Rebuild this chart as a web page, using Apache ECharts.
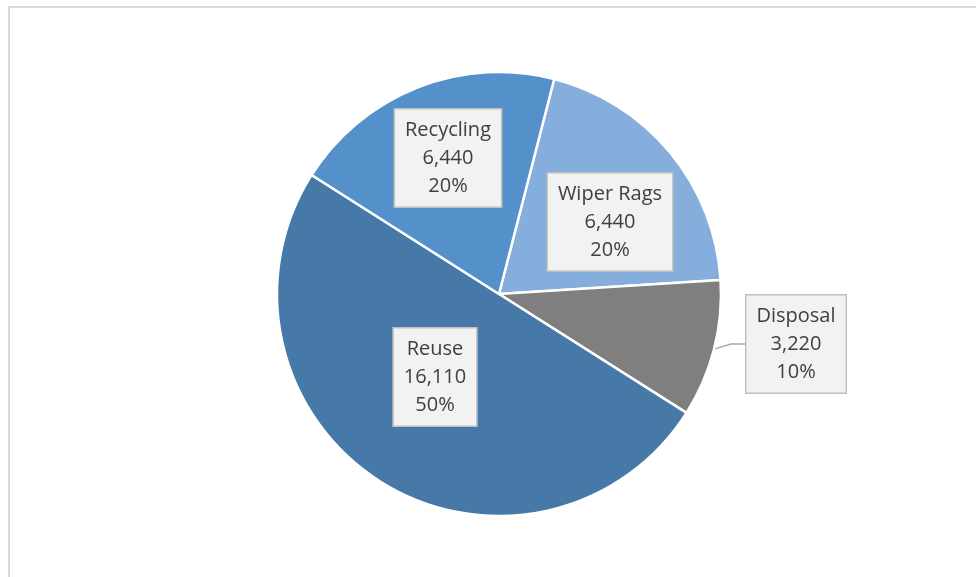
<!DOCTYPE html>
<html>
<head>
<meta charset="utf-8">
<script src="https://cdn.jsdelivr.net/npm/echarts@6/dist/echarts.min.js"></script>
<style>
html,body{margin:0;padding:0;background:#fff;}
#frame{position:absolute;left:8px;top:6px;width:980px;height:590px;border:2px solid #D9D9D9;box-sizing:border-box;}
#chart{position:absolute;left:0;top:0;width:976px;height:577px;}
</style>
</head>
<body>
<div id="frame"></div>
<div id="chart"></div>
<script>
var categories = ['Wiper Rags', 'Disposal', 'Reuse', 'Recycling'];
var values = [6440, 3220, 16110, 6440];
var percents = ['20%', '10%', '50%', '20%'];
var colors = ['#85AEDC', '#7F7F7F', '#4679A8', '#5491CA'];
var labelPos = [[610, 222], [796, 344], [435, 377], [448, 158]];

function fmt(n){ return n.toString().replace(/\B(?=(\d{3})+(?!\d))/g, ','); }

var chart = echarts.init(document.getElementById('chart'));
var data = categories.map(function(c, i){
  return {
    name: c,
    value: values[i],
    itemStyle: {color: colors[i]},
    label: {position: i === 1 ? 'outside' : 'inside'},
    labelLine: {show: i === 1, length: 6, length2: 14, lineStyle: {color: '#A6A6A6', width: 1.5}}
  };
});
chart.setOption({
  animation: false,
  series: [{
    type: 'pie',
    center: [499, 294],
    radius: [0, 222],
    startAngle: 75.6,
    clockwise: true,
    avoidLabelOverlap: false,
    itemStyle: {borderColor: '#ffffff', borderWidth: 2.5},
    label: {
      show: true,
      formatter: function(p){ return p.name + '\n' + fmt(p.value) + '\n' + percents[p.dataIndex]; },
      fontFamily: '"Open Sans", sans-serif',
      fontSize: 20,
      lineHeight: 28,
      color: '#404040',
      align: 'center',
      backgroundColor: '#F2F2F2',
      borderColor: '#BFBFBF',
      borderWidth: 1.5,
      padding: [7, 10, 6, 10]
    },
    labelLayout: function(p){
      var pos = labelPos[p.dataIndex];
      return {x: pos[0], y: pos[1], align: 'center', verticalAlign: 'middle'};
    },
    data: data
  }]
});
</script>
</body>
</html>
